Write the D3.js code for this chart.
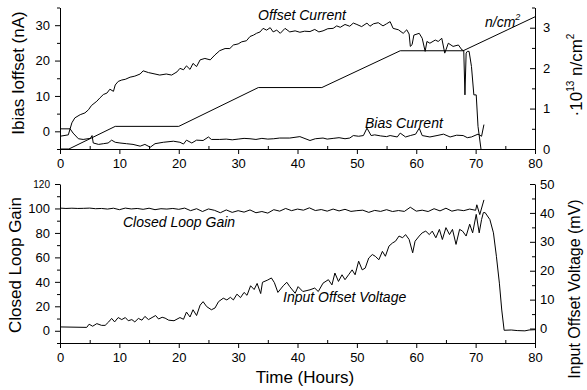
<!DOCTYPE html>
<html><head><meta charset="utf-8">
<script src="https://cdn.jsdelivr.net/npm/d3@7"></script>
<style>
body{margin:0;background:#fff;}
svg text{font-family:"Liberation Sans",Arial,sans-serif;fill:#000;}
</style></head>
<body><svg id="c" width="587" height="390"></svg>
<script>
// ---------- data ----------
const offsetT = [0,1.4,2.0,2.5,3.4,4.2,4.8,5.3,6.2,6.7,7.3,7.9,8.4,9.0,9.3,9.8,10.4,11.0,11.8,12.6,13.5,14.0,14.9,16.0,16.8,17.9,18.8,19.7,20.2,20.8,21.3,21.9,22.4,23.0,23.6,24.4,25.3,26.1,26.9,27.8,28.6,29.2,30.0,30.6,31.4,32.0,32.6,33.1,33.7,34.2,34.8,35.4,35.9,36.5,37.1,37.9,38.7,39.6,40.4,41.2,42.1,42.9,43.6,44.3,45.1,46.0,46.6,47.2,48.0,48.8,49.4,50.0,50.8,51.7,52.2,52.8,53.6,54.4,55.0,55.6,56.1,57.0,57.8,58.4,58.8,59.0,59.3,59.6,60.5,61.0,61.5,61.8,62.3,63.2,63.7,64.3,64.8,65.4,66.2,67.1,67.7,68.0,68.2,68.4,68.6,68.9,69.3,69.7,70.1,70.4,70.9];
const offsetV = [-1.4,-1.0,2.4,3.8,4.7,5.2,6.1,7.3,8.5,9.4,10.4,10.8,11.9,11.3,13.1,14.1,14.5,14.7,15.3,15.6,16.2,17.1,16.6,16.2,15.9,16.2,15.9,16.8,17.8,17.4,18.5,17.5,19.2,18.3,20.2,20.6,20.2,21.6,22.8,23.4,23.4,24.4,24.7,25.3,25.6,26.8,27.2,27.7,28.1,29.1,28.6,29.3,28.1,28.6,27.7,29.1,28.1,28.4,28.0,28.3,28.2,28.8,28.1,28.4,29.0,29.1,29.8,29.4,30.2,29.7,30.6,30.2,29.6,30.6,29.7,30.4,30.7,29.8,30.4,31.0,29.1,28.7,27.7,28.7,27.5,24.0,24.5,27.2,27.7,26.3,22.6,25.4,24.9,25.8,25.4,26.3,22.1,24.9,24.0,24.4,23.0,22.8,10.3,22.1,22.6,22.6,18.3,10.3,10.3,1.4,-5.0];

const biasT = [0,1.7,2.2,3.1,3.9,5.1,5.4,5.6,6.5,7.3,8.1,8.7,9.3,10.1,11.2,12.3,13.5,14.3,15.2,16.0,17.4,19.1,20.2,20.8,21.3,22.2,23.0,24.1,25.0,25.5,26.9,28,29,30,31,32,33,34,35,36,37,38.7,40.4,42.1,43,44.3,45,46,47,48,48.8,49.4,50.3,51.1,51.7,52.4,53,54,55,55.6,56.8,57.3,58.2,59,59.9,60.5,61.0,62.3,63.5,64.6,65.7,66.8,67.9,68.6,69.3,70.4,71.0,71.4];
const biasV = [0.7,0.7,-0.5,-2.1,-2.3,-2.0,-1.2,-3.3,-3.7,-3.5,-3.3,-2.5,-3.1,-3.3,-3.5,-3.7,-4.2,-3.7,-4.5,-3.5,-3.1,-2.8,-3.1,-3.6,-2.5,-3.3,-2.5,-2.6,-1.6,-2.3,-2.3,-2.2,-2.4,-2.2,-2.0,-2.1,-2.3,-2.0,-2.2,-2.1,-1.9,-1.9,-1.5,-2.6,-2.1,-1.9,-2.2,-2.0,-1.8,-2.1,-1.9,-1.2,-1.4,-1.2,0.9,-1.2,-1.0,-1.3,-1.5,-1.2,-1.6,-0.5,-1.6,-1.2,-0.8,0.9,-1.2,-1.6,-1.2,-0.8,-1.6,-1.1,-1.2,-1.8,-1.6,-0.8,-1.4,1.9];

const fluT = [0,1.5,9.3,20.0,33.4,44.1,57.3,67.9,80];
const fluV = [0,0,0.56,0.56,1.52,1.52,2.43,2.43,3.27];

const gainT = [0,1,2,3,4,5,6,7,8,9,10,11,12,13,14,15,16,17,18,19,20,21,22,23,24,25,26,27,28,29,30,31,32,33,34,35,36,37,38,39,40,41,42,43,44,45,46,47,48,49,50,51,52,53,54,55,56,57,58,59,60,61,62,63,64,65,66,67,68,69,70,70.2,70.7,71.4];
const gainV = [100.3,100,100.2,100,100.1,100.3,99.8,100,99.5,100.2,99,100.3,99.6,100,99.3,100.2,99,99.8,99.5,100,99.3,100.3,98.2,99.8,97.5,99.6,98.5,96.5,98.8,96.8,98.2,97,98.8,96.5,97.5,96.2,99,97.8,100,98.2,99.5,98.6,100.5,98.3,99.1,97.8,99.5,98,99.3,97.6,98.2,98.6,96.8,98.4,97.6,99,97.5,98.3,97.6,101,97.8,98.6,97.5,99.8,98,100.2,97.8,98.9,98.2,99.5,98.5,103,95,107];

const voltT = [0,4.5,4.9,5.5,6.2,7.0,7.6,8.2,8.7,9.2,9.8,10.4,11.0,11.5,12.1,12.6,13.2,13.8,14.3,14.9,15.5,16.1,16.6,17.2,17.7,18.3,19.2,20.2,20.8,21.3,21.9,22.4,23.0,23.6,24.1,24.7,25.5,26.1,26.7,27.5,28.1,28.7,29.2,29.8,30.4,31.0,31.5,32.1,32.7,33.2,33.8,34.1,35.0,35.6,36.1,36.7,37.6,38.2,38.7,39.6,40.1,40.9,42.1,42.9,43.5,44.3,45.2,45.8,46.3,46.9,47.5,48.0,48.6,49.2,49.7,50.3,50.9,51.4,52.0,52.6,53.1,53.7,54.3,54.8,55.4,56.0,56.5,57.1,57.7,58.2,58.8,59.4,59.8,60.5,61.0,61.6,62.2,62.7,63.3,63.9,64.4,65.0,65.6,66.1,66.7,67.3,67.8,68.4,69.0,69.5,70.1,70.6,71.0,71.3,71.6,72.4,73.0,73.5,74.0,74.4,74.8,76,77,78.3,79,80];
const voltV = [0.56,0.4,1.5,0.8,1.7,1.1,1.1,2.3,3.5,2.3,3.8,3.1,3.8,2.7,3.1,2.3,3.5,2.9,4.2,3.1,3.8,4.5,3.3,3.9,3.6,2.9,2.7,3.8,3.2,5.7,4.0,6.5,4.5,8.1,9.3,7.6,6.5,7.1,9.3,10.5,9.9,10.8,9.9,11.9,10.7,12.5,11.5,14.8,13.5,15.6,12.1,16.0,16.8,17.5,15.9,12.5,14.8,16.0,14.5,12.2,14.5,12.8,13.4,14.0,12.8,15.7,16.9,15.1,19.2,16.3,18.6,16.9,18.6,20.3,18.6,23.3,20.3,20.9,24.4,25.6,25.0,23.8,26.7,25.0,28.5,29.6,30.2,32.0,31.4,32.5,30.8,26.2,30.2,32.0,33.1,33.7,32.5,33.7,31.4,34.3,30.8,34.9,32.5,34.3,29.1,34.3,33.7,32.0,36.1,33.1,39.5,33.1,37.7,40.1,40.1,37.7,33.1,25.0,15.7,6.4,-0.6,-0.5,-0.7,-0.8,-0.5,-0.4];

const xTicks = [0,10,20,30,40,50,60,70,80];
const topLeftTicks = [0,10,20,30];
const topRightTicks = [0,1,2,3];
const botLeftTicks = [0,20,40,60,80,100,120];
const botRightTicks = [0,10,20,30,40,50];

// ---------- layout ----------
const svg = d3.select("#c");
const X0 = 60, X1 = 535;
const x = d3.scaleLinear().domain([0,80]).range([X0,X1]);
const T_B = 149, T_T = 7.5;
const B_B = 343, B_T = 184;
const yTL = d3.scaleLinear().domain([-5,35]).range([T_B,T_T]);
const yTR = d3.scaleLinear().domain([0,3.5]).range([T_B,T_T]);
const yBL = d3.scaleLinear().domain([-10,120]).range([B_B,B_T]);
const yBR = d3.scaleLinear().domain([-5,50]).range([B_B,B_T]);

function styleAxis(g){
  g.selectAll("path,line").attr("stroke","#000").attr("stroke-width",1);
  g.selectAll("text").attr("font-size",13).attr("font-family","Liberation Sans, Arial, sans-serif");
}
function minorRange(a,b,s){const r=[];for(let v=a;v<=b+1e-9;v+=s)r.push(+v.toFixed(4));return r;}

function xAxes(yPos){
  const g = svg.append("g").attr("transform",`translate(0,${yPos})`)
    .call(d3.axisBottom(x).tickValues(xTicks).tickSizeInner(5).tickSizeOuter(0).tickPadding(5));
  styleAxis(g);
  const m = svg.append("g").attr("transform",`translate(0,${yPos})`)
    .call(d3.axisTop(x).tickValues(minorRange(5,75,10)).tickSize(3).tickFormat(""));
  m.select(".domain").remove(); styleAxis(m);
}
function leftAxes(y, major, minorStep, xPos){
  const d = y.domain();
  const g = svg.append("g").attr("transform",`translate(${xPos},0)`)
    .call(d3.axisLeft(y).tickValues(major).tickSizeInner(5).tickSizeOuter(0).tickPadding(5).tickFormat(d3.format("d")));
  styleAxis(g);
  const m = svg.append("g").attr("transform",`translate(${xPos},0)`)
    .call(d3.axisLeft(y).tickValues(minorRange(d[0],d[1],minorStep).filter(v=>!major.includes(v))).tickSize(3).tickFormat(""));
  m.select(".domain").remove(); styleAxis(m);
  return g;
}
function rightAxes(y, major, minorStep, xPos, pad){
  const d = y.domain();
  const g = svg.append("g").attr("transform",`translate(${xPos},0)`)
    .call(d3.axisRight(y).tickValues(major).tickSizeInner(-5).tickSizeOuter(0).tickPadding(pad).tickFormat(d3.format("d")));
  styleAxis(g);
  const m = svg.append("g").attr("transform",`translate(${xPos},0)`)
    .call(d3.axisRight(y).tickValues(minorRange(d[0],d[1],minorStep).filter(v=>!major.includes(v))).tickSize(-3).tickFormat(""));
  m.select(".domain").remove(); styleAxis(m);
  return g;
}

// top panel axes
xAxes(T_B);
leftAxes(yTL, topLeftTicks, 5, X0);
rightAxes(yTR, topRightTicks, 0.5, X1, 8);
// bottom panel axes
xAxes(B_B);
const bl = leftAxes(yBL, botLeftTicks, 10, X0);
bl.selectAll(".tick text").filter(d=>d===120).attr("font-size",10);
rightAxes(yBR, botRightTicks, 5, X1, 5);

// ---------- lines ----------
function drawLine(ts, vs, y){
  const pts = ts.map((t,i)=>[t,vs[i]]);
  svg.append("path").datum(pts)
    .attr("fill","none").attr("stroke","#000").attr("stroke-width",1).attr("stroke-linejoin","round")
    .attr("d", d3.line().x(d=>x(d[0])).y(d=>y(d[1])));
}
drawLine(offsetT, offsetV, yTL);
drawLine(biasT, biasV, yTL);
drawLine(fluT, fluV, yTR);
drawLine(gainT, gainV, yBL);
drawLine(voltT, voltV, yBR);

// ---------- labels ----------
function label(txt, xx, yy, size, italic){
  return svg.append("text").attr("x",xx).attr("y",yy).attr("font-size",size)
    .attr("font-style",italic?"italic":"normal").text(txt);
}
label("Offset Current",258,19.5,14,true);
label("Bias Current",365,128,14,true);
label("Closed Loop Gain",123,227,14,true);
label("Input Offset Voltage",283,302,14,true);
const nc = svg.append("text").attr("x",485).attr("y",27).attr("font-size",14).attr("font-style","italic");
nc.append("tspan").text("n/cm");
nc.append("tspan").attr("font-size",9).attr("dy",-7).text("2");

// axis titles
svg.append("text").attr("transform","translate(24,73) rotate(-90)").attr("text-anchor","middle")
  .attr("font-size",17).text("Ibias Ioffset (nA)");
svg.append("text").attr("transform","translate(21,265) rotate(-90)").attr("text-anchor","middle")
  .attr("font-size",17).text("Closed Loop Gain");
svg.append("text").attr("x",305).attr("y",383).attr("text-anchor","middle")
  .attr("font-size",17).text("Time (Hours)");
svg.append("text").attr("transform","translate(580,289) rotate(-90)").attr("text-anchor","middle")
  .attr("font-size",16).text("Input Offset Voltage (mV)");
const rt = svg.append("text").attr("transform","translate(582,75) rotate(-90)").attr("text-anchor","middle")
  .attr("font-size",17);
rt.append("tspan").text("·10");
rt.append("tspan").attr("font-size",10).attr("dy",-8).text("13");
rt.append("tspan").attr("dy",8).text(" n/cm");
rt.append("tspan").attr("font-size",10).attr("dy",-8).text("2");
</script></body></html>
